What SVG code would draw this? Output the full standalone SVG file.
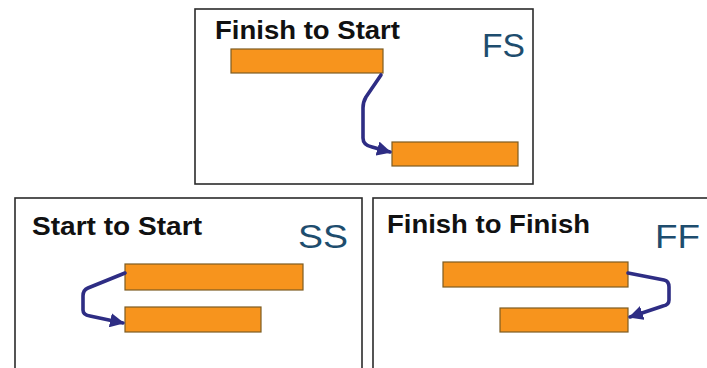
<svg xmlns="http://www.w3.org/2000/svg" width="707" height="368" viewBox="0 0 707 368">
<defs>
<style>
.frame{fill:#fff;stroke:#2b2b2b;stroke-width:1.6}
.bar{fill:#f7941d;stroke:#7d5c22;stroke-width:1.2}
.title{font-family:"Liberation Sans",Arial,sans-serif;font-weight:bold;font-size:26px;fill:#111}
.code{font-family:"Liberation Sans",Arial,sans-serif;font-size:34px;fill:#1e4d6e}
.link{fill:none;stroke:#2e2d84;stroke-width:3.6;stroke-linejoin:round;stroke-linecap:round}
</style>
<marker id="ah" viewBox="0 0 10 10" refX="9" refY="5" markerWidth="4" markerHeight="4" orient="auto" markerUnits="strokeWidth">
<path d="M0,0 L10,5 L0,10 z" fill="#2e2d84"/>
</marker>
</defs>
<rect width="707" height="368" fill="#fff"/>
<g id="fs">
<rect class="frame" x="195" y="9" width="338" height="175"/>
<text class="title" x="215" y="39" textLength="185" lengthAdjust="spacingAndGlyphs">Finish to Start</text>
<text class="code" x="482" y="57" textLength="43" lengthAdjust="spacingAndGlyphs">FS</text>
<rect class="bar" x="231" y="49" width="152" height="24"/>
<rect class="bar" x="392" y="142" width="126" height="24"/>
</g>
<g id="ss">
<rect class="frame" x="15" y="198" width="347" height="190"/>
<text class="title" x="32" y="235" textLength="170" lengthAdjust="spacingAndGlyphs">Start to Start</text>
<text class="code" x="298" y="248" textLength="50" lengthAdjust="spacingAndGlyphs">SS</text>
<rect class="bar" x="125" y="264" width="178" height="26"/>
<rect class="bar" x="125" y="307" width="136" height="25"/>
</g>
<g id="ff">
<rect class="frame" x="373" y="198" width="350" height="190"/>
<text class="title" x="387" y="233" textLength="203" lengthAdjust="spacingAndGlyphs">Finish to Finish</text>
<text class="code" x="655" y="248" textLength="45" lengthAdjust="spacingAndGlyphs">FF</text>
<rect class="bar" x="443" y="262" width="185" height="25"/>
<rect class="bar" x="500" y="308" width="128" height="24"/>
</g>
<g id="connectors">
<path class="link" marker-end="url(#ah)" d="M381,75 L366,97 Q363,102 363,108 L363,138 Q363,145 372,147 L390,152"/>
<path class="link" marker-end="url(#ah)" d="M125,273 L88,288 Q83,290 83,296 L83,310 Q83,315 90,316 L123,323"/>
<path class="link" marker-end="url(#ah)" d="M628,273 L664,280 Q669,281 669,287 L669,300 Q669,305 663,306 L630,317"/>
</g>
</svg>
